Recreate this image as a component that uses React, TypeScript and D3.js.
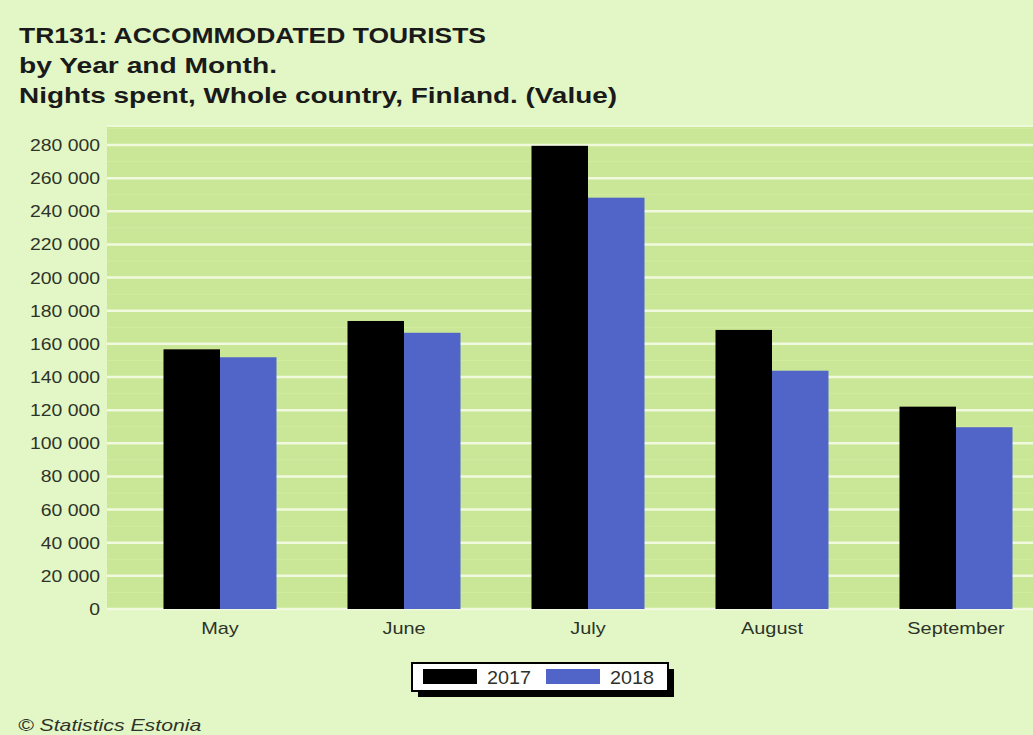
import React from "react";
import * as d3 from "d3";

const months = ["May", "June", "July", "August", "September"];
const years = ["2017", "2018"];
const values2017 = [156700, 173800, 279500, 168400, 122100];
const values2018 = [151900, 166700, 248200, 143800, 109700];
const yTicks = [0, 20000, 40000, 60000, 80000, 100000, 120000, 140000, 160000, 180000, 200000, 220000, 240000, 260000, 280000];
const titleLines = [
  "TR131: ACCOMMODATED TOURISTS",
  "by Year and Month.",
  "Nights spent, Whole country, Finland. (Value)",
];
const titleWidths = [467, 258, 598];
const colors = ["#000000", "#5165c9"];

function SText({ x, y, sx, children, ...rest }: any) {
  return (
    <g transform={`translate(${x},${y}) scale(${sx},1)`}>
      <text x={0} y={0} {...rest}>{children}</text>
    </g>
  );
}

export default function App() {
  const W = 1033, H = 735;
  const plotLeft = 107, plotRight = 1033, plotTop = 125, plotBottom = 610;
  const y = d3.scaleLinear().domain([0, 280000]).range([609, 145]);
  const x = d3.scaleBand<string>().domain(months).range([128, 1048]).paddingInner(0.386).paddingOuter(0.193);
  const xs = d3.scaleBand<string>().domain(years).range([0, x.bandwidth()]);
  const series = [values2017, values2018];
  const fmt = (v: number) => d3.format(",")(v).replace(/,/g, " ");
  const font = "'Liberation Sans', Arial, sans-serif";
  const halfTicks = yTicks.map((t) => t + 10000);
  const txt = "#2e3329";

  return (
    <svg width={W} height={H} style={{ position: "absolute", left: 0, top: 0 }} fontFamily={font}>
      <rect x={0} y={0} width={W} height={H} fill="#e3f7c6" />
      {titleLines.map((t, i) => (
        <text key={i} x={19} y={43 + i * 30} fontSize={22} fontWeight="bold" fill="#1a1a1a"
          textLength={titleWidths[i]} lengthAdjust="spacingAndGlyphs">{t}</text>
      ))}
      <rect x={plotLeft} y={plotTop} width={plotRight - plotLeft} height={plotBottom - plotTop} fill="#c9e796" />
      {halfTicks.map((t) => (
        <line key={"h" + t} x1={plotLeft} x2={plotRight} y1={y(t)} y2={y(t)} stroke="#d6eea8" strokeWidth={1} opacity={0.7} />
      ))}
      {yTicks.map((t) => (
        <line key={t} x1={plotLeft} x2={plotRight} y1={y(t)} y2={y(t)} stroke="#f1fadf" strokeWidth={2.5} />
      ))}
      <line x1={plotLeft} x2={plotRight} y1={plotTop + 1} y2={plotTop + 1} stroke="#eef8da" strokeWidth={2} />
      {yTicks.map((t) => (
        <SText key={"l" + t} x={100} y={y(t) + 6} sx={1.14} textAnchor="end" fontSize={17} fill={txt}>{fmt(t)}</SText>
      ))}
      {months.map((m, i) => (
        <g key={m} transform={`translate(${x(m)},0)`}>
          {years.map((yr, j) => (
            <rect key={yr} x={xs(yr)} y={y(series[j][i])} width={xs.bandwidth()} height={y(0) - y(series[j][i])} fill={colors[j]} />
          ))}
          <SText x={x.bandwidth() / 2} y={634} sx={1.17} textAnchor="middle" fontSize={17} fill={txt}>{m}</SText>
        </g>
      ))}
      <g>
        <rect x={418} y={669} width={256} height={28} fill="#000" />
        <rect x={412} y={663} width={256} height={28} fill="#fff" stroke="#000" strokeWidth={2} />
        {years.map((yr, j) => (
          <g key={yr} transform={`translate(${423 + j * 123},0)`}>
            <rect x={0} y={669} width={54} height={15} fill={colors[j]} />
            <SText x={64} y={684} sx={1.1} fontSize={18} fill={txt}>{yr}</SText>
          </g>
        ))}
      </g>
      <SText x={18} y={731} sx={1.25} fontSize={17} fontStyle="italic" fill={txt}>© Statistics Estonia</SText>
    </svg>
  );
}
